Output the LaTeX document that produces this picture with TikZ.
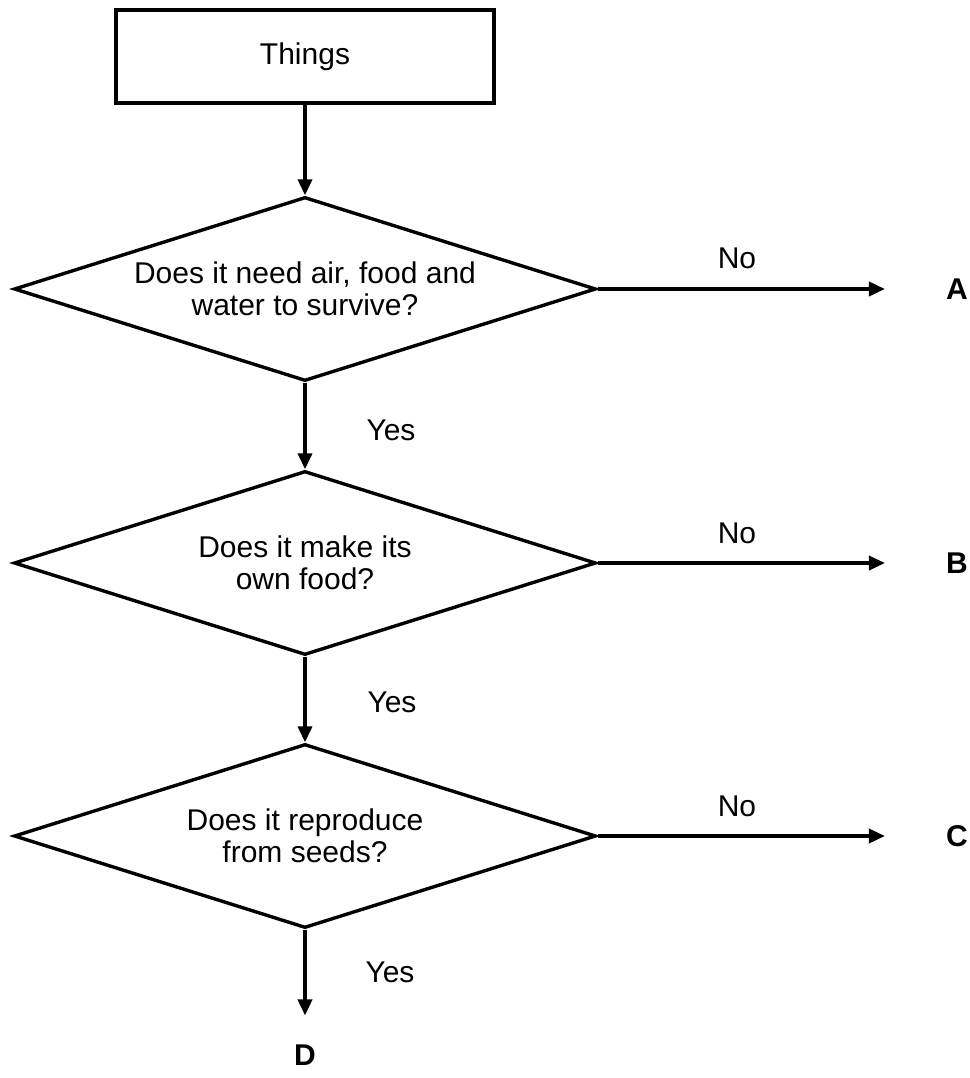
\documentclass[tikz,border=0pt]{standalone}
\usepackage{fontspec}
\setmainfont{Liberation Sans}
\usetikzlibrary{shapes.geometric,arrows.meta}
\begin{document}
\begin{tikzpicture}[x=1pt,y=-1pt,
  lbl/.style={font=\fontsize{30}{32}\selectfont, inner sep=0pt},
  letter/.style={font=\fontsize{30}{32}\selectfont\bfseries, inner sep=0pt},
  dia/.style={diamond, draw, line width=3.4pt, minimum width=582pt, minimum height=184pt,
    aspect=3.17, inner sep=0pt, align=center, font=\fontsize{30}{32}\selectfont},
  thingbox/.style={rectangle, draw, line width=3.4pt, minimum width=378pt, minimum height=93pt,
    inner sep=0pt, font=\fontsize{30}{32}\selectfont},
  arr/.style={line width=3.6pt, -{Triangle[length=16pt,width=14pt]}}
]
\useasboundingbox (0,0) rectangle (969,1078);
\node[thingbox] (things) at (305,56.5) {Things};
\node[dia] (d1) at (305,289) {Does it need air, food and\\water to survive?};
\node[dia] (d2) at (305,563) {Does it make its\\own food?};
\node[dia] (d3) at (305,836) {Does it reproduce\\from seeds?};

\node[letter] (A) at (957,289) {A};
\node[letter] (B) at (957,563) {B};
\node[letter] (C) at (957,836) {C};
\node[letter] (D) at (305,1055) {D};

\node[lbl] (no1) at (737,258) {No};
\node[lbl] (no2) at (737,533) {No};
\node[lbl] (no3) at (737,806) {No};
\node[lbl] (yes1) at (391,430) {Yes};
\node[lbl] (yes2) at (392,702) {Yes};
\node[lbl] (yes3) at (390,972) {Yes};

\draw[arr] (things) -- (d1);
\draw[arr] (d1) -- (d2);
\draw[arr] (d2) -- (d3);
\draw[arr, shorten >=29pt] (d3) -- (D);
\draw[arr, shorten >=61pt] (d1.east) -- (A);
\draw[arr, shorten >=61pt] (d2.east) -- (B);
\draw[arr, shorten >=61pt] (d3.east) -- (C);
\end{tikzpicture}
\end{document}
